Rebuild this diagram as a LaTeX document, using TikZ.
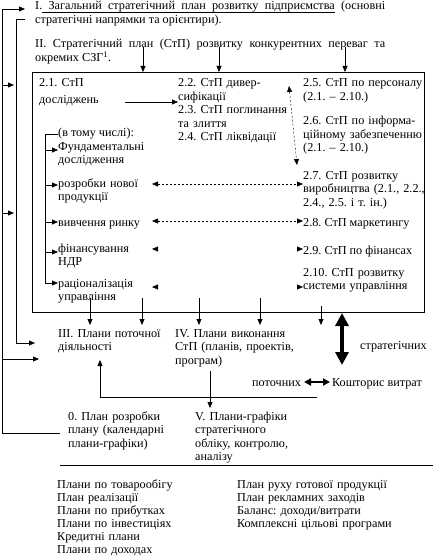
\documentclass[tikz,border=0pt]{standalone}
\usepackage{fontspec}
\setmainfont{Liberation Serif}
\usetikzlibrary{arrows.meta}
\hyphenpenalty=10000
\exhyphenpenalty=10000
\frenchspacing
\newcommand\uwort[1]{\setbox0=\hbox{#1}\rlap{\rule[-2.2pt]{\wd0}{0.5pt}}\box0\relax}
\newcommand\ulz{\leaders\hrule height -1.7pt depth 2.2pt\hskip\fontdimen2\font plus\fontdimen3\font minus\fontdimen4\font}
\tikzset{
  txt/.style={inner sep=0pt, anchor=base west, align=left},
  mtxt/.style={txt, text width=190pt},
  absatz/.style={txt, text width=350pt, align=justify},
  punkt/.style={dash pattern=on 2pt off 2pt},
  dick/.style={line width=4pt, {Triangle[length=13pt,width=13pt]}-{Triangle[length=13pt,width=13pt]}},
  halbdick/.style={line width=2pt, {Triangle[length=7pt,width=7pt]}-{Triangle[length=7pt,width=7pt]}},
}
\begin{document}
\begin{tikzpicture}[x=1pt,y=-1pt,font=\fontsize{12.2}{13.5}\selectfont,>={Triangle[length=6pt,width=5pt]}]
\useasboundingbox (0,0) rectangle (435,556);

% Kopf
\node[absatz] (plan1) at (35,10) {I.\ulz\uwort{Загальний}\ulz\uwort{стратегічний}\ulz\uwort{план}\ulz\uwort{розвитку}\ulz\uwort{підприємства} (основні стратегічні напрямки та орієнтири).};
\node[absatz] (plan2) at (35,48) {II. Стратегічний план (СтП) розвитку конкурентних переваг та окремих СЗГ\textsuperscript{1}.};

% Rahmen
\node[draw, anchor=north west, inner sep=0pt, minimum width=392pt, minimum height=240pt] (rahmen) at (32,72) {};

\coordinate (k1) at (143,47);
\coordinate (k2) at (219,47);
\coordinate (k3) at (345,47);
\draw[->] (k1) -- (k1 |- rahmen.north);
\draw[->] (k2) -- (k2 |- rahmen.north);
\draw[->] (k3) -- (k3 |- rahmen.north);

% linke Spalte
\node[mtxt] (stp21) at (39,87) {2.1. СтП\\[3.5pt]досліджень};
\node[txt] (vtomu) at (58,137) {(в тому числі):};
\node[mtxt] (fund) at (58,150) {Фундаментальні\\дослідження};
\node[mtxt] (rozr) at (58,187) {розробки нової\\продукції};
\node[txt] (vyvch) at (58,226) {вивчення ринку};
\node[mtxt] (finan) at (58,252) {фінансування\\НДР};
\node[mtxt] (ratsi) at (58,287) {раціоналізація\\управління};

% mittlere Spalte
\node[mtxt] (stp22) at (178,87) {2.2. СтП дивер-\\сифікації\\2.3. СтП поглинання\\та злиття\\2.4. СтП ліквідації};

% rechte Spalte
\node[mtxt] (stp25) at (303,87) {2.5. СтП по персоналу\\(2.1. – 2.10.)};
\node[mtxt] (stp26) at (303,125) {2.6. СтП по інформа-\\ційному забезпеченню\\(2.1. – 2.10.)};
\node[mtxt] (stp27) at (303,179) {2.7. СтП розвитку\\виробництва (2.1., 2.2.,\\2.4., 2.5. і т. ін.)};
\node[txt] (stp28) at (303,226) {2.8. СтП маркетингу};
\node[txt] (stp29) at (303,254) {2.9. СтП по фінансах};
\node[mtxt] (stp210) at (303,276) {2.10. СтП розвитку\\системи управління};

\draw[->] (125,102) -- (stp22.west |- 0,102);

% Klammer
\draw (vtomu.base west |- 0,134) -| (45,283);
\foreach \y/\n in {150/fund,185/rozr,222/vyvch,252/finan,283/ratsi}
  \draw[->] (45,\y) -- (\n.base west |- 0,\y);

% Querverbindungen
\draw[punkt,<->] (289,86) -- (297,165);
\draw[punkt,<->] (152,184) -- (stp27.base west |- 0,184);
\draw[punkt,<->] (152,221) -- (stp28.base west |- 0,221);
\draw[->] (157,249) -- (152,249);
\draw[->] (157,287) -- (152,287);
\draw[->] (297,249) -- (stp29.base west |- 0,249);
\draw[->] (297,287) -- (stp210.base west |- 0,287);

% unter dem Rahmen
\foreach \x in {90,142,199,260}
  \draw[->] (\x,298) -- (\x,325);
\draw[->] (321,306) -- (321,325);

\node[mtxt] (plan3) at (58,337) {III. Плани поточної\\діяльності};
\node[mtxt] (plan4) at (175,337) {IV. Плани виконання\\СтП (планів, проектів,\\програм)};
\node[txt] (strat) at (360,349) {стратегічних};
\node[txt] (potoch) at (252,386) {поточних};
\node[txt] (koshtor) at (332,386) {Кошторис витрат};

\draw[dick] (342,313) -- (342,365);
\draw[halbdick] (304,382) -- (330,382);

\coordinate (rueck) at (317,397);
\draw[->] (rueck) -| (100,360);

\node[mtxt] (plan0) at (68,420) {0. План розробки\\плану (календарні\\плани-графіки)};
\node[mtxt] (plan5) at (195,420) {V. Плани-графіки\\стратегічного\\обліку, контролю,\\аналізу};
\draw[->] (210,371) -- (210,408);

% linke Linien
\coordinate (nul) at (60,433);
\draw[->] (nul) -- (2,433) -- (2,9) -- (25,9);
\draw[->] (25,19) -- (16,19) -- (16,343) -- (35,343);
\draw[->] (2,85) -- (14,85);
\draw[->] (2,213) -- (14,213);
\draw[->] (2,359) -- (39,359);

% Liste
\draw (60,465) -- (433,465);
\node[mtxt, font=\fontsize{12.2}{13}\selectfont] (liste1) at (57,488) {Плани по товарообігу\\План реалізації\\Плани по прибутках\\Плани по інвестиціях\\Кредитні плани\\Плани по доходах};
\node[mtxt, font=\fontsize{12.2}{13}\selectfont] (liste2) at (237,488) {План руху готової продукції\\План рекламних заходів\\Баланс: доходи/витрати\\Комплексні цільові програми};

\end{tikzpicture}
\end{document}
